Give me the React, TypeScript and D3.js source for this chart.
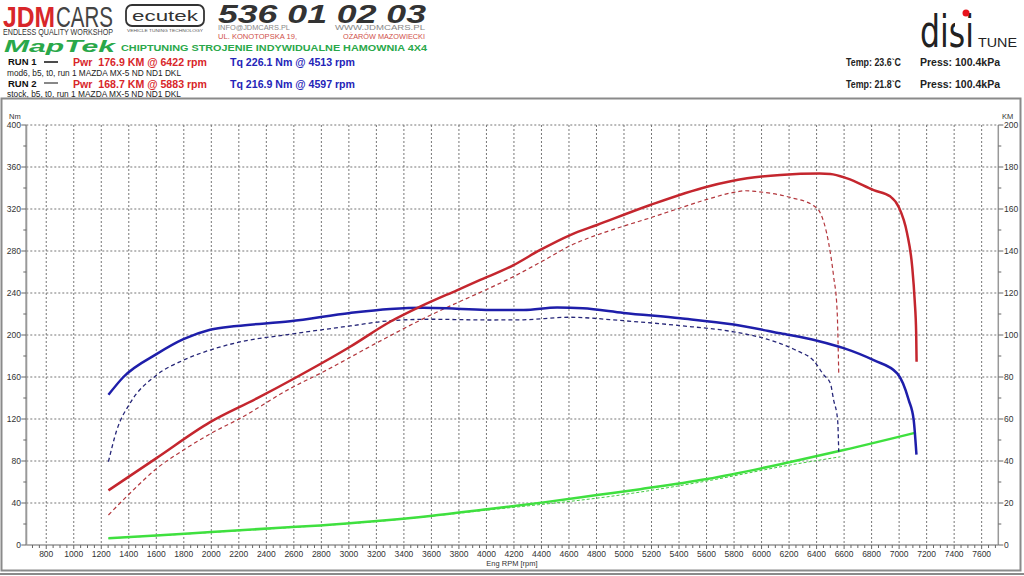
import React from "react";
import * as d3 from "d3";

// ---- data (rpm, value) ----
const run1Torque: [number, number][] = [
  [1252, 143], [1361, 160], [1604, 182], [1797, 196], [1991, 205], [2185, 208.6],
  [2573, 213], [3009, 221], [3300, 224.8], [3542, 226], [3785, 225], [4027, 223.8],
  [4270, 223.8], [4513, 226.1], [4700, 225.4], [4997, 221], [5409, 215.9], [5797, 210],
  [6137, 201.6], [6404, 194.6], [6597, 187.5], [6815, 176], [6986, 163.5], [7070, 138],
  [7106, 119], [7126, 86],
];
const run1Power: [number, number][] = [
  [1252, 26], [1604, 41.5], [1991, 58.5], [2331, 69.8], [2622, 80], [3009, 94.4],
  [3300, 106.3], [3518, 113.5], [3785, 121.3], [3955, 126.2], [4197, 133.3], [4391, 140.5],
  [4609, 147.6], [4804, 152.4], [5191, 161.9], [5604, 170.6], [5895, 174.6], [6137, 176.2],
  [6422, 176.9], [6500, 176.7], [6622, 174.6], [6815, 169], [6937, 165.9], [6997, 161],
  [7058, 148.4], [7095, 132.5], [7113, 116.7], [7124, 100.8], [7127, 87.3],
];
const run2Torque: [number, number][] = [
  [1252, 79.3], [1313, 109.5], [1409, 135], [1604, 162], [1797, 176], [1991, 185.7],
  [2185, 192.7], [2573, 200.7], [3009, 208.6], [3300, 213.6], [3591, 215], [4027, 214.3],
  [4270, 214.5], [4597, 216.9], [4997, 213.6], [5409, 208.9], [5797, 203], [6040, 196],
  [6258, 185], [6379, 175.5], [6452, 162], [6500, 154], [6524, 138], [6553, 119],
  [6561, 88.9],
];
const run2Power: [number, number][] = [
  [1252, 14.3], [1433, 26.2], [1604, 36.5], [1797, 45.2], [1999, 53.2], [2209, 60.3],
  [2573, 74.5], [2815, 82.5], [3204, 96.3], [3542, 107.8], [3785, 115.3], [3955, 120.3],
  [4197, 127.8], [4391, 134.6], [4609, 142.5], [4924, 150.3], [5191, 155.8], [5409, 160.5],
  [5604, 164.6], [5822, 168.2], [5883, 168.7], [5967, 168.3], [6209, 165.5], [6379, 161.5],
  [6428, 158], [6488, 143.7], [6524, 127.8], [6549, 112], [6561, 81.8],
];
const run1Loss: [number, number][] = [
  [1252, 3.2], [1628, 4.6], [2000, 6.2], [2500, 8.2], [2791, 9.3], [3204, 11.4],
  [3591, 13.8], [4004, 17], [4415, 20.3], [4804, 23.8], [5118, 26.6], [5604, 31.4],
  [6209, 39.5], [6597, 45.2], [7122, 53.5],
];
const run2Loss: [number, number][] = [
  [1252, 3.2], [1628, 4.5], [2000, 6], [2500, 8], [3204, 11.2], [4004, 16.6],
  [4973, 23.8], [5604, 30.5], [6209, 38.1], [6573, 42],
];

const xTickValues = d3.range(800, 7601, 200);
const yTickValues = d3.range(0, 401, 40);
const pTickValues = d3.range(0, 201, 20);

const FONT = "'Liberation Sans', Arial, sans-serif";
const PRE: React.CSSProperties = { whiteSpace: "pre" };

export default function App() {
  const x = d3.scaleLinear().domain([655, 7721]).range([26.3, 998.3]);
  const y = d3.scaleLinear().domain([0, 400]).range([545, 125]);
  const yP = d3.scaleLinear().domain([0, 200]).range([545, 125]);

  const lineT = d3
    .line<[number, number]>()
    .x((d) => x(d[0]))
    .y((d) => y(d[1]))
    .curve(d3.curveMonotoneX);
  const lineP = d3
    .line<[number, number]>()
    .x((d) => x(d[0]))
    .y((d) => yP(d[1]))
    .curve(d3.curveMonotoneX);

  const [x0, x1] = x.range();
  const [yb, yt] = y.range();
  const minorX = d3.range(700, 7701, 50);
  const minorY = d3.range(0, 401, 20);

  return (
    <div style={{ position: "absolute", left: 0, top: 0 }}>
      <svg width={1024} height={576} style={{ display: "block", background: "#fff" }} fontFamily={FONT}>
        {/* ---------- header ---------- */}
        <text x={3} y={27} fontSize={30} fontWeight="bold" fill="#d8262a" textLength={52} lengthAdjust="spacingAndGlyphs">JDM</text>
        <text x={56} y={27} fontSize={30} fill="#444" textLength={57} lengthAdjust="spacingAndGlyphs">CARS</text>
        <text x={3} y={34.5} fontSize={8.5} fill="#333" textLength={110} lengthAdjust="spacingAndGlyphs">ENDLESS QUALITY WORKSHOP</text>

        <rect x={126} y={5} width={78} height={21} rx={6} fill="#fff" stroke="#333" strokeWidth={1.8} />
        <text x={165} y={21} fontSize={15} textAnchor="middle" fill="#333" textLength={66} lengthAdjust="spacingAndGlyphs">ecutek</text>
        <text x={165} y={32} fontSize={3.6} textAnchor="middle" fill="#555" textLength={76} lengthAdjust="spacingAndGlyphs">VEHICLE TUNING TECHNOLOGY</text>

        <text x={218} y={22.5} fontSize={25} fontWeight="bold" fontStyle="italic" fill="#333" textLength={208} lengthAdjust="spacingAndGlyphs">536 01 02 03</text>
        <text x={218} y={30} fontSize={6.5} fill="#888" textLength={72} lengthAdjust="spacingAndGlyphs">INFO@JDMCARS.PL</text>
        <text x={425} y={30} fontSize={6.5} fill="#888" textAnchor="end" textLength={90} lengthAdjust="spacingAndGlyphs">WWW.JDMCARS.PL</text>
        <text x={218} y={39} fontSize={6.5} fill="#d0504a" textLength={79} lengthAdjust="spacingAndGlyphs">UL. KONOTOPSKA 19,</text>
        <text x={425} y={39} fontSize={6.5} fill="#d0504a" textAnchor="end" textLength={82} lengthAdjust="spacingAndGlyphs">OŻARÓW MAZOWIECKI</text>

        <text x={4} y={52} fontSize={17} fontWeight="bold" fontStyle="italic" fill="#2aa84a" textLength={111} lengthAdjust="spacingAndGlyphs">MapTek</text>
        <text x={121} y={50.5} fontSize={8.5} fontWeight="bold" fill="#2aa84a" textLength={306} lengthAdjust="spacingAndGlyphs">CHIPTUNING STROJENIE INDYWIDUALNE HAMOWNIA 4X4</text>

        {/* run legend */}
        <text x={8} y={65} fontSize={9.5} fontWeight="bold" fill="#111">RUN 1</text>
        <line x1={44} x2={58} y1={62} y2={62} stroke="#111" strokeWidth={1.5} />
        <text x={73} y={66} fontSize={11} fontWeight="bold" fill="#d8262a" style={PRE} textLength={134} lengthAdjust="spacingAndGlyphs">Pwr  176.9 KM @ 6422 rpm</text>
        <text x={230} y={66} fontSize={11} fontWeight="bold" fill="#2424b8" textLength={125} lengthAdjust="spacingAndGlyphs">Tq 226.1 Nm @ 4513 rpm</text>
        <text x={7} y={76} fontSize={8.5} fill="#222" textLength={174} lengthAdjust="spacingAndGlyphs">mod6, b5, t0, run 1 MAZDA MX-5 ND ND1 DKL</text>

        <text x={8} y={87} fontSize={9.5} fontWeight="bold" fill="#111">RUN 2</text>
        <line x1={44} x2={58} y1={83} y2={83} stroke="#111" strokeWidth={1} />
        <text x={73} y={87.5} fontSize={11} fontWeight="bold" fill="#d8262a" style={PRE} textLength={134} lengthAdjust="spacingAndGlyphs">Pwr  168.7 KM @ 5883 rpm</text>
        <text x={230} y={87.5} fontSize={11} fontWeight="bold" fill="#2424b8" textLength={125} lengthAdjust="spacingAndGlyphs">Tq 216.9 Nm @ 4597 rpm</text>
        <text x={7} y={97} fontSize={8.5} fill="#222" textLength={174} lengthAdjust="spacingAndGlyphs">stock, b5, t0, run 1 MAZDA MX-5 ND ND1 DKL</text>

        {/* disi tune logo */}
        <text x={920} y={47} fontSize={44} fill="#222" textLength={54} lengthAdjust="spacingAndGlyphs" fontFamily="'DejaVu Sans Condensed', 'Liberation Sans Narrow', sans-serif">disi</text>
        <rect x={955} y={22} width={12} height={6} fill="#fff" />
        <circle cx={966} cy={13} r={3.5} fill="#e8141c" />
        <text x={978} y={47} fontSize={13} fill="#222" textLength={39} lengthAdjust="spacingAndGlyphs">TUNE</text>

        <text x={846} y={66} fontSize={10} fontWeight="bold" fill="#222" textLength={55} lengthAdjust="spacingAndGlyphs">Temp: 23.6`C</text>
        <text x={920} y={66} fontSize={10} fontWeight="bold" fill="#222" textLength={80} lengthAdjust="spacingAndGlyphs">Press: 100.4kPa</text>
        <text x={846} y={88} fontSize={10} fontWeight="bold" fill="#222" textLength={55} lengthAdjust="spacingAndGlyphs">Temp: 21.8`C</text>
        <text x={920} y={88} fontSize={10} fontWeight="bold" fill="#222" textLength={80} lengthAdjust="spacingAndGlyphs">Press: 100.4kPa</text>

        {/* frame */}
        <rect x={1.5} y={98.5} width={1019} height={472} fill="none" stroke="#8a8a8a" strokeWidth={2} />
        <line x1={0} x2={1024} y1={574} y2={574} stroke="#8a8a8a" strokeWidth={2} />

        {/* ---------- grid ---------- */}
        {xTickValues.map((v) => (
          <line key={"gx" + v} x1={x(v)} x2={x(v)} y1={yt} y2={yb} stroke="#777" strokeWidth={1} strokeDasharray="2,2" />
        ))}
        {yTickValues.filter((v) => v > 0).map((v) => (
          <line key={"gy" + v} x1={x0} x2={x1} y1={y(v)} y2={y(v)} stroke="#777" strokeWidth={1} strokeDasharray="2,2" />
        ))}

        {/* ---------- axes ---------- */}
        <line x1={x0} x2={x0} y1={yt} y2={yb} stroke="#999" strokeWidth={2} />
        <line x1={x1} x2={x1} y1={yt} y2={yb} stroke="#999" strokeWidth={1.5} />
        <line x1={x0} x2={x1} y1={yb} y2={yb} stroke="#999" strokeWidth={1.5} />
        {minorX.map((v) => (
          <line key={"mx" + v} x1={x(v)} x2={x(v)} y1={yb} y2={yb + (v % 200 === 0 ? 4 : 3)} stroke="#666" strokeWidth={1} />
        ))}
        {minorY.map((v) => (
          <g key={"my" + v}>
            <line x1={x0 - (v % 40 === 0 ? 5 : 3)} x2={x0} y1={y(v)} y2={y(v)} stroke="#666" strokeWidth={1} />
            <line x1={x1} x2={x1 + (v % 40 === 0 ? 5 : 3)} y1={y(v)} y2={y(v)} stroke="#666" strokeWidth={1} />
          </g>
        ))}
        {xTickValues.map((v) => (
          <text key={"lx" + v} x={x(v)} y={557} fontSize={8.5} textAnchor="middle" fill="#333">{v}</text>
        ))}
        {yTickValues.map((v) => (
          <text key={"ly" + v} x={21} y={y(v) + 3} fontSize={8.5} textAnchor="end" fill="#333">{v}</text>
        ))}
        {pTickValues.map((v) => (
          <text key={"lp" + v} x={1004} y={yP(v) + 3} fontSize={8.5} textAnchor="start" fill="#333">{v}</text>
        ))}
        <text x={9} y={119} fontSize={7.5} fill="#333">Nm</text>
        <text x={1002} y={119} fontSize={7.5} fill="#333">KM</text>
        <text x={512} y={566} fontSize={7.5} textAnchor="middle" fill="#333">Eng RPM [rpm]</text>

        {/* ---------- curves ---------- */}
        <path d={lineP(run2Loss) || ""} fill="none" stroke="#44c944" strokeWidth={1} strokeDasharray="3,2" />
        <path d={lineP(run1Loss) || ""} fill="none" stroke="#3fe03f" strokeWidth={2.5} />
        <path d={lineT(run2Torque) || ""} fill="none" stroke="#262678" strokeWidth={1.3} strokeDasharray="4,3" />
        <path d={lineP(run2Power) || ""} fill="none" stroke="#b3363c" strokeWidth={1.2} strokeDasharray="4,3" />
        <path d={lineT(run1Torque) || ""} fill="none" stroke="#1e1eaa" strokeWidth={2.5} />
        <path d={lineP(run1Power) || ""} fill="none" stroke="#c4262e" strokeWidth={2.5} />
      </svg>
    </div>
  );
}
